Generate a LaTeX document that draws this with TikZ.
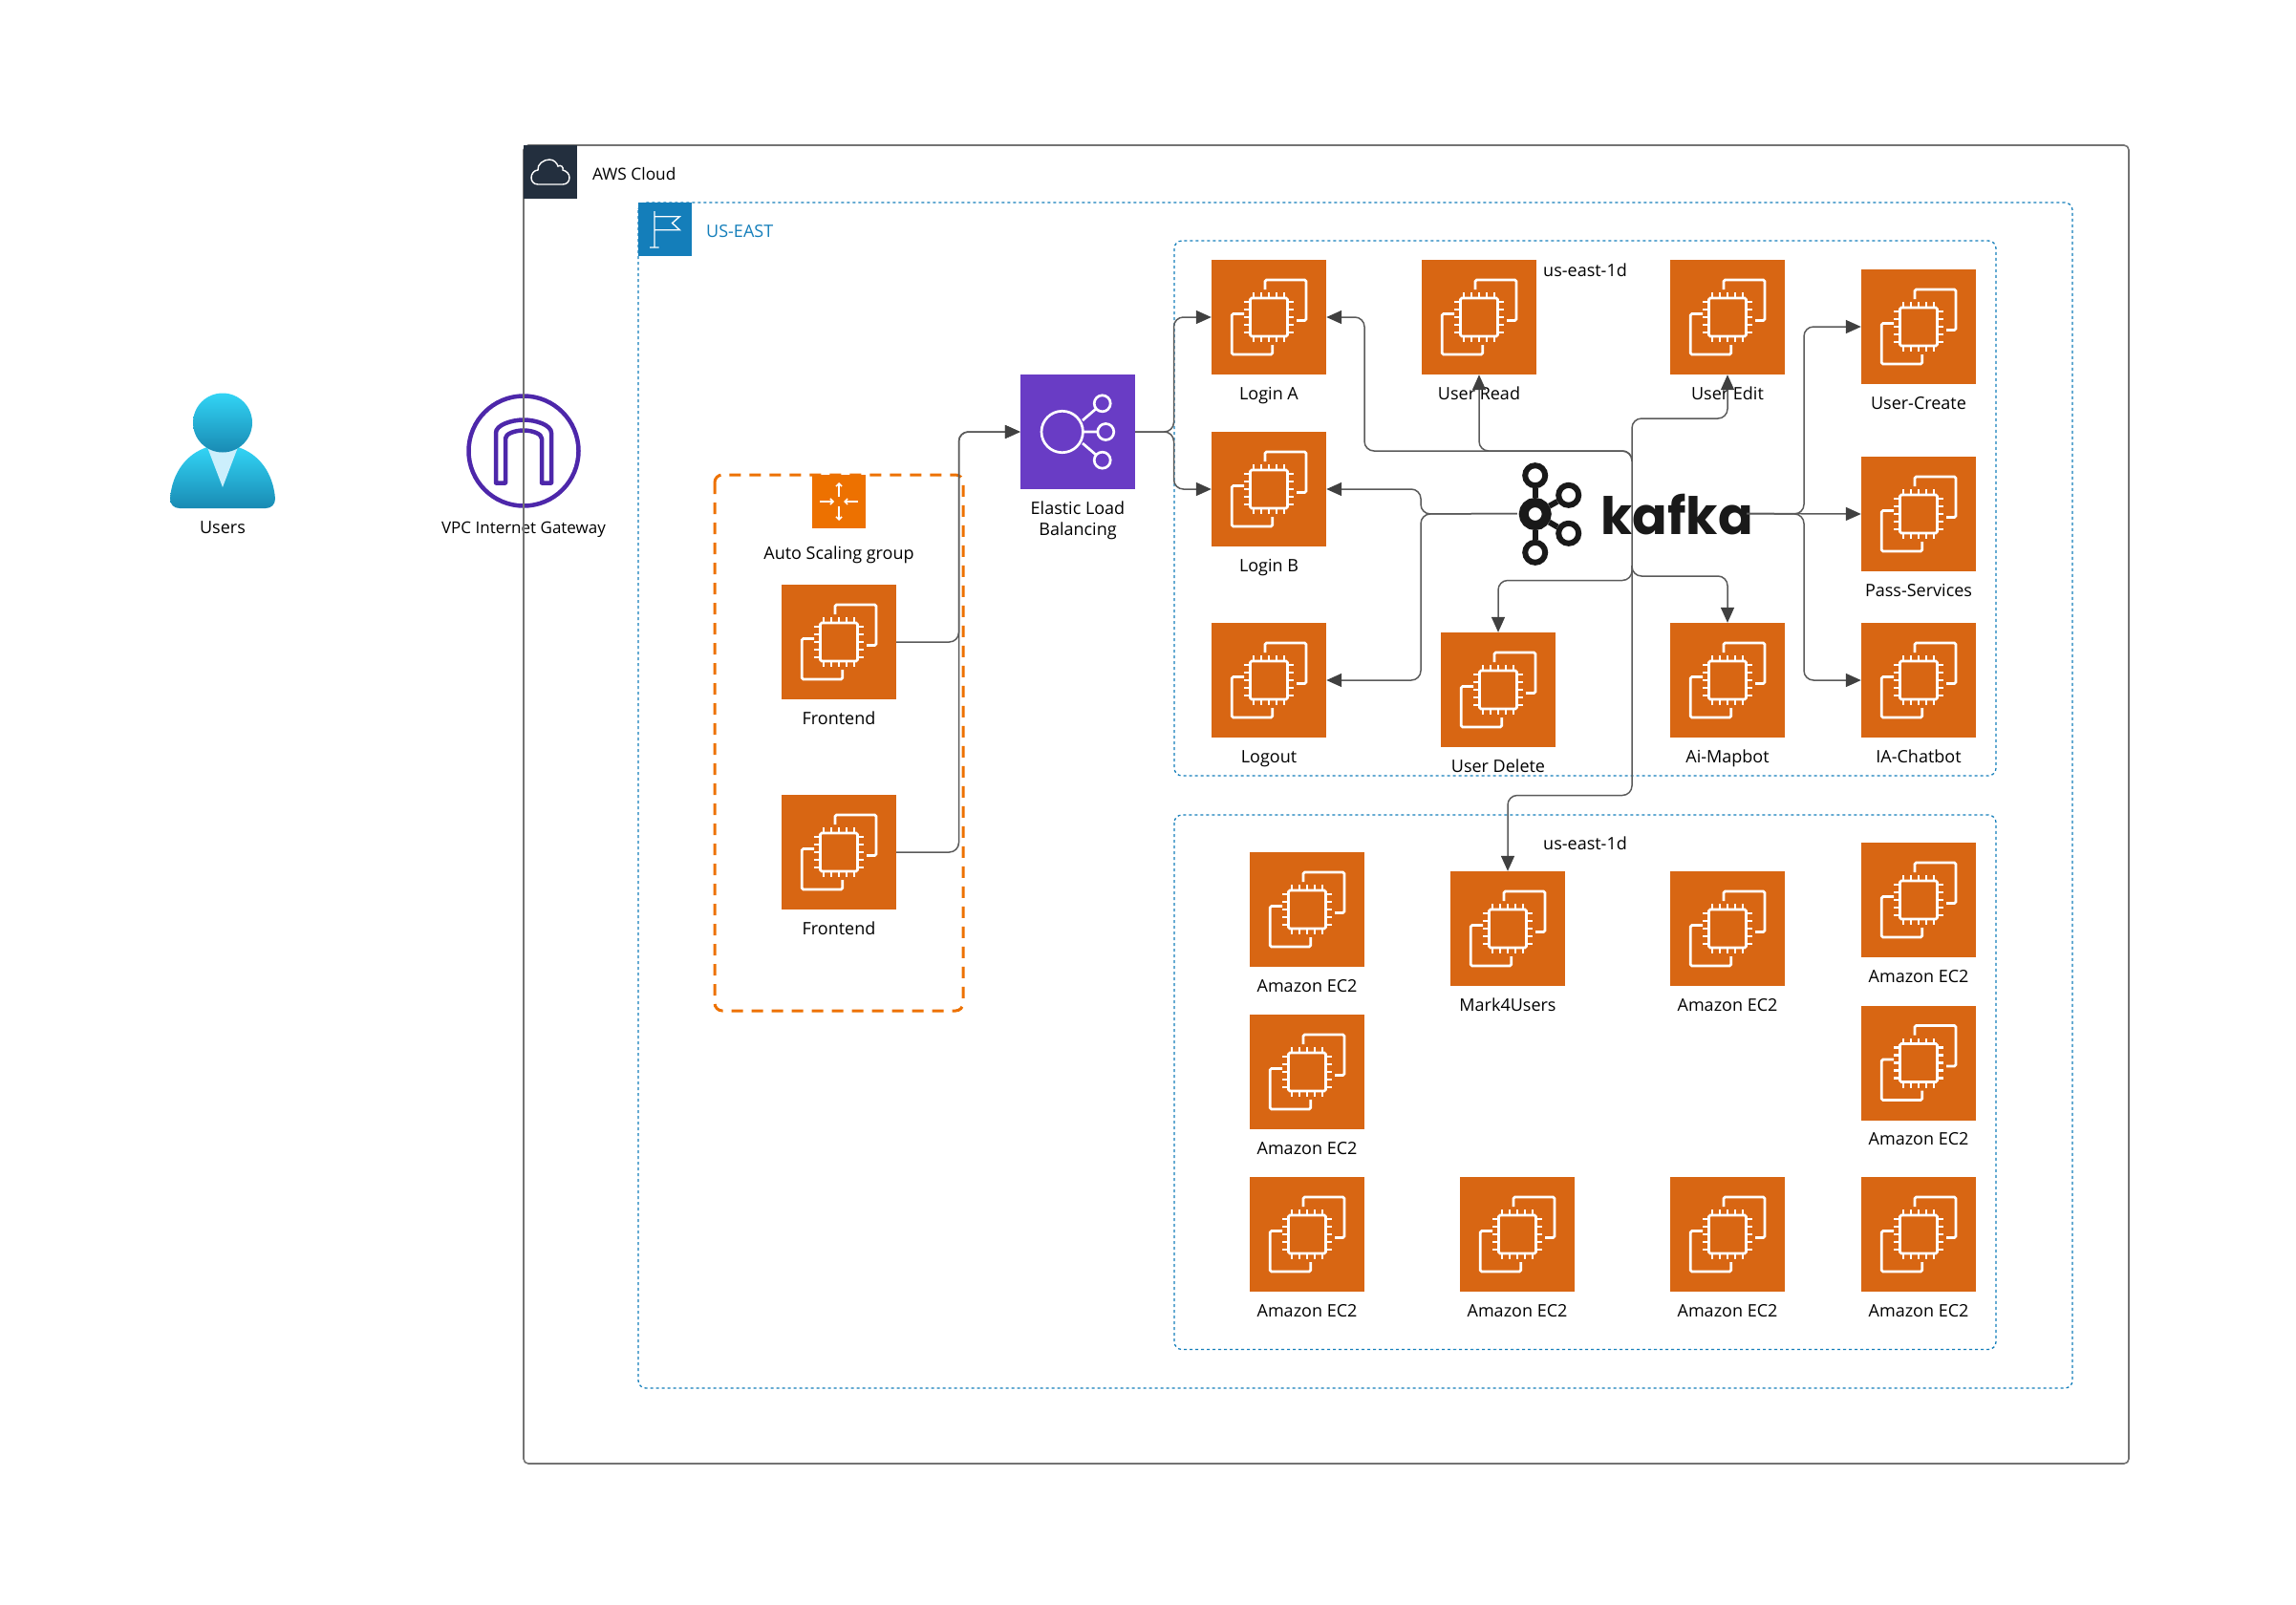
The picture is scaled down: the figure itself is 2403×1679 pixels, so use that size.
\documentclass[tikz,border=0pt]{standalone}
\usepackage{fontspec}
\setmainfont{Open Sans}
\newfontfamily\kafkafont{Poppins}
\usepackage{xcolor}
\usetikzlibrary{arrows.meta, positioning}
\definecolor{ecorange}{HTML}{D86613}
\definecolor{asgorange}{HTML}{ED7100}
\definecolor{elbpurple}{HTML}{693CC5}
\definecolor{igwpurple}{HTML}{4D27AA}
\definecolor{cloudnavy}{HTML}{232F3E}
\definecolor{regionblue}{HTML}{147EBA}
\definecolor{linkgrey}{HTML}{5A5A5A}
\definecolor{usercyan}{HTML}{32D4F5}
\definecolor{userteal}{HTML}{198AB3}
\newcommand{\ecchip}{
  \begin{scope}[shift={(path picture bounding box.center)}, white, line width=2.7pt, rounded corners=1.5pt]
    \draw (-19.5,-20) rectangle (19.5,20);
    \draw (-4,-29) -- (-4,-39) -- (39,-39) -- (39,3.5) -- (29,3.5);
    \draw (-26,-3.5) -- (-38.7,-3.5) -- (-38.7,39) -- (3.7,39) -- (3.7,29);
    \foreach \p in {-16,-8,0,8,16} {
      \draw[rounded corners=0pt, line width=2.4pt] (\p,-20) -- (\p,-26) (\p,20) -- (\p,26);
      \draw[rounded corners=0pt, line width=2.4pt] (-20,\p) -- (-26,\p) (20,\p) -- (26,\p);
    }
  \end{scope}
}
\tikzset{
  ecbox/.style={rectangle, fill=ecorange, minimum size=120pt, inner sep=0pt, path picture={\ecchip}},
  labtext/.style={font=\fontsize{18}{20}\selectfont, inner sep=0pt, align=center},
  lab/.style={labtext, text height=14pt, text depth=2pt},
  link/.style={draw=linkgrey, line width=1.5pt, rounded corners=10pt},
  tip/.style={link, -{Triangle[length=16pt,width=14pt,color=black!75,fill=black!75]}},
  zone/.style={draw=regionblue, line width=1.3pt, dash pattern=on 3pt off 3pt, rounded corners=8pt},
  ring/.style={draw=black!90, circle, inner sep=0pt},
  glyph/.style={draw=white, line width=1.4pt}
}

\begin{document}
\begin{tikzpicture}[x=1pt, y=-1pt]
  \useasboundingbox (0,0) rectangle (2403,1679);

  % users
  \path[top color=usercyan, bottom color=userteal] (178,522) .. controls (180,495) and (195,475) .. (217,468) -- (249,468) .. controls (271,475) and (286,495) .. (288,522) .. controls (288,528) and (284,532) .. (278,532) -- (188,532) .. controls (182,532) and (178,528) .. (178,522);
  \fill[cyan!20] (217,468) -- (233,510) -- (249,468) -- cycle;
  \node[circle, minimum size=62pt, inner sep=0pt, top color=usercyan, bottom color=userteal] (users) at (233,442.5) {};
  \node[lab] (userslab) at (233,552) {Users};

  % gateway
  \node[circle, draw=igwpurple, line width=4.5pt, minimum size=115pt, inner sep=0pt] (igw) at (548,472) {};
  \draw[igwpurple, line width=4.5pt, line join=round] (519,505.5) -- (519,453) .. controls (519,445) and (535,439.5) .. (548,439.5) .. controls (561,439.5) and (577,445) .. (577,453) -- (577,505.5) -- (567,505.5) -- (567,459) .. controls (567,454) and (557,450.5) .. (548,450.5) .. controls (539,450.5) and (529,454) .. (529,459) -- (529,505.5) -- cycle;
  \node[lab, font=\fontsize{17}{20}\selectfont] (igwlab) at (548,552) {VPC Internet Gateway};

  % containers
  \draw[black!55, line width=1.6pt, rounded corners=5pt] (548,152) rectangle (2228,1532);
  \node[rectangle, fill=cloudnavy, minimum size=56pt, inner sep=0pt] (cloudicon) at (576,180) {};
  \draw[glyph, shift={(cloudicon.center)}] (-13,13) .. controls (-18,13) and (-20,9) .. (-20,6) .. controls (-20,2) and (-17,-2) .. (-13,-2) .. controls (-14,-8) and (-7,-13) .. (-1,-13) .. controls (4,-13) and (7,-9) .. (8,-6) .. controls (11,-8) and (14,-5) .. (13,-2) .. controls (17,-1) and (20,2) .. (20,6) .. controls (20,10) and (17,13) .. (13,13) -- cycle;
  \node[lab, anchor=west, font=\fontsize{17.3}{20}\selectfont] (cloudlab) at (620,182) {AWS Cloud};

  \draw[zone] (668,212) rectangle (2169,1453);
  \node[rectangle, fill=regionblue, minimum size=56pt, inner sep=0pt] (regionicon) at (696,240) {};
  \draw[glyph] (685,221) -- (685,259) (680,259) -- (689.5,259) (685,226.7) -- (711.3,226.7) -- (703.6,233.5) -- (711.3,240.7) -- (685,240.7);
  \node[lab, anchor=west, text=regionblue] (regionlab) at (739,242) {US-EAST};

  \draw[zone] (1229,252) rectangle (2089,812);
  \node[lab] (zoneAlab) at (1659,283) {us-east-1d};
  \draw[zone] (1229,853) rectangle (2089,1412.5);
  \node[lab] (zoneBlab) at (1659,883) {us-east-1d};

  % auto scaling group
  \draw[asgorange, line width=3pt, dash pattern=on 12pt off 9pt, rounded corners=8pt] (748,497) rectangle (1008,1058);
  \node[rectangle, fill=asgorange, minimum size=56pt, inner sep=0pt] (asgicon) at (878,525) {};
  \draw[white, line width=1.5pt, -{Straight Barb[length=3pt,width=6pt]}] (878,520) -- (878,505);
  \draw[white, line width=1.5pt, -{Straight Barb[length=3pt,width=6pt]}] (878,530) -- (878,545);
  \draw[white, line width=1.5pt, -{Straight Barb[length=3pt,width=6pt]}] (858,525) -- (873,525);
  \draw[white, line width=1.5pt, -{Straight Barb[length=3pt,width=6pt]}] (898,525) -- (883,525);
  \node[lab] (asglab) at (878,579) {Auto Scaling group};

  % load balancer
  \node[rectangle, fill=elbpurple, minimum size=120pt, inner sep=0pt] (elb) at (1128,452) {};
  \begin{scope}[shift={(elb.center)}, white, line width=2.7pt]
    \draw (-16.3,0) circle (21.7);
    \draw (25.7,-29.7) circle (8.5);
    \draw (29.3,0) circle (8.5);
    \draw (25.7,29.7) circle (8.5);
    \draw (5,-12) -- (19,-24) (5.4,0) -- (20.8,0) (5,12) -- (19,24);
  \end{scope}
  \node[labtext] (elblab) at (1128,544.5) {Elastic Load\\[2pt]Balancing};

  % instances
  \foreach \name/\x/\y/\txt in {
    frontA/878/672/Frontend, frontB/878/892/Frontend,
    loginA/1328/332/Login A, loginB/1328/512/Login B,
    logout/1328/712/Logout, userRead/1548/332/User Read,
    userEdit/1808/332/User Edit, userDelete/1568/722/User Delete,
    aiMapbot/1808/712/Ai-Mapbot, userCreate/2008/342/User-Create,
    passServices/2008/538/Pass-Services, chatbot/2008/712/IA-Chatbot,
    mark4/1578/972/Mark4Users,
    ecA/1368/952/Amazon EC2, ecB/1368/1122/Amazon EC2, ecC/1368/1292/Amazon EC2,
    ecD/1588/1292/Amazon EC2, ecE/1808/972/Amazon EC2, ecF/1808/1292/Amazon EC2,
    ecG/2008/942/Amazon EC2, ecH/2008/1112.5/Amazon EC2, ecI/2008/1292/Amazon EC2}
  {
    \node[ecbox] (\name) at (\x,\y) {};
    \node[lab] (\name lab) at (\x,\y+80) {\txt};
  }

  % kafka
  \node[minimum width=240pt, minimum height=109pt, inner sep=0pt] (kafka) at (1708,537.5) {};
  \node[ring, line width=10pt, minimum size=24pt] (hub) at (1606.7,538) {};
  \node[ring, line width=6pt, minimum size=21pt] (brokerA) at (1606.7,497.7) {};
  \node[ring, line width=6pt, minimum size=21pt] (brokerB) at (1641.7,518.3) {};
  \node[ring, line width=6pt, minimum size=21pt] (brokerC) at (1641.7,558.3) {};
  \node[ring, line width=6pt, minimum size=21pt] (brokerD) at (1606.7,578.3) {};
  \foreach \from/\to in {hub/brokerA, hub/brokerB, hub/brokerC, hub/brokerD}
    \draw[black!90, line width=6pt] (\from) -- (\to);
  \node[anchor=base west, inner sep=0pt, font=\kafkafont\bfseries\fontsize{54}{60}\selectfont, text=black!90] (kafkaword) at (1675,559) {kafka};

  % connectors
  \draw[tip] (frontA.east) -| (1003.5,452) -- (elb.west);
  \draw[tip] (frontB.east) -| (1003.5,452) -- (elb.west);
  \draw[tip] (elb.east) -- (1228.5,452) |- (loginA.west);
  \draw[tip] (elb.east) -- (1228.5,452) |- (loginB.west);

  \draw[tip] (kafka.north) |- (1428,472) |- (loginA.east);
  \draw[tip] (kafka.north) |- (1548,472) -- (userRead.south);
  \draw[tip] (kafka.south) |- (1808,438) -- (userEdit.south);
  \draw[tip] (kafka.west) -- (1487,538) |- (loginB.east);
  \draw[tip] (kafka.west) -- (1487,538) |- (logout.east);
  \draw[tip] (kafka.south) |- (1568,607.5) -- (userDelete.north);
  \draw[tip] (kafka.south) |- (1808,603) -- (aiMapbot.north);
  \draw[tip] (kafka.south) |- (1578,832.5) -- (mark4.north);
  \draw[tip] (kafka.east) -- (1888,538) |- (userCreate.west);
  \draw[tip] (kafka.east) -- (passServices.west);
  \draw[tip] (kafka.east) -- (1888,538) |- (chatbot.west);
\end{tikzpicture}
\end{document}
